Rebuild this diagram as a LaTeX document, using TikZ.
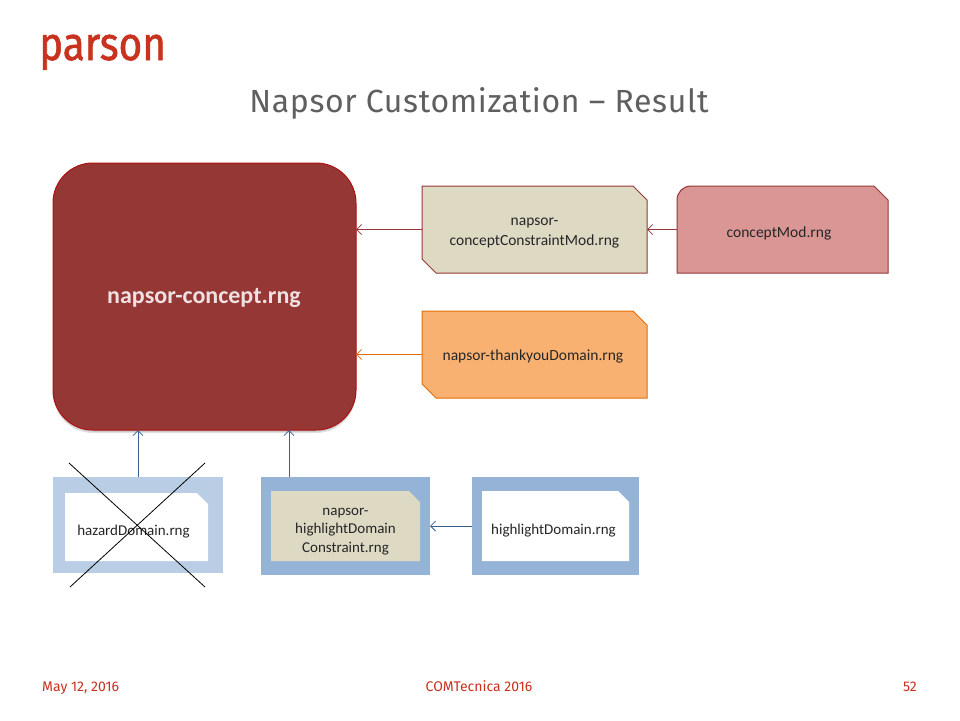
\documentclass[tikz,border=0pt]{standalone}
\usepackage{fontspec}
\setmainfont{Carlito}
\newfontfamily\titlefont{Fira Sans}
\newfontfamily\logofont[FakeBold=1.2,FakeStretch=0.86]{Fira Sans}
\usetikzlibrary{arrows.meta}
\definecolor{bigred}{HTML}{953735}
\definecolor{bigedge}{HTML}{B01010}
\definecolor{tan}{HTML}{DDD9C3}
\definecolor{orangefill}{HTML}{F9B172}
\definecolor{orangeedge}{HTML}{E36C09}
\definecolor{pinkfill}{HTML}{D99694}
\definecolor{paleblue}{HTML}{B9CDE5}
\definecolor{midblue}{HTML}{95B3D7}
\definecolor{arrowblue}{HTML}{376092}
\definecolor{brand}{HTML}{C8321E}
\definecolor{titlegray}{HTML}{5F5F5F}
\definecolor{bodytext}{HTML}{262626}
\tikzset{
  label text/.style={font=\fontsize{15.5}{20}\selectfont,text=bodytext,align=center,inner sep=0pt},
  small label/.style={label text,font=\fontsize{15}{18.5}\selectfont},
  anchor box/.style={inner sep=0pt,outer sep=0pt,draw=none},
  reddraw/.style={draw=bigred,line width=1pt},
  orangedraw/.style={draw=orangeedge,line width=1pt},
  link/.style={-{Straight Barb[length=5pt,width=10pt,line width=.8pt]},line width=1pt},
  redlink/.style={link,draw=bigred},
  orangelink/.style={link,draw=orangeedge},
  bluelink/.style={link,draw=arrowblue},
  strike/.style={draw=black,line width=.8pt},
  footer/.style={font=\titlefont\fontsize{14}{16}\selectfont,text=brand,inner sep=0pt}
}
\begin{document}
\begin{tikzpicture}[x=1pt,y=-1pt]
\useasboundingbox (0,0) rectangle (960,720);
\fill[white] (0,0) rectangle (960,720);
% header
\node[anchor=base west,inner sep=0pt,font=\logofont\fontsize{47}{50}\selectfont,text=brand] (logo) at (39,60) {parson};
\node[inner sep=0pt,font=\titlefont\fontsize{32}{38}\selectfont\addfontfeature{LetterSpace=2},text=titlegray] (title) at (479,103) {Napsor Customization – Result};
% big box
\fill[black,opacity=.12,rounded corners=40pt] (53,165) rectangle (356,433);
\fill[black,opacity=.15,rounded corners=40pt] (53,164) rectangle (356,431.5);
\filldraw[fill=bigred,draw=bigedge,line width=1pt,rounded corners=40pt] (53,163) rectangle (356,430);
\node[anchor box,minimum width=303pt,minimum height=267pt] (big) at (204.5,296.5) {};
\node[inner sep=0pt,font=\bfseries\fontsize{24}{28}\selectfont,text=white!85!bigred] (bigtext) at (204,298) {napsor-concept.rng};
% constraint mod
\filldraw[fill=tan,reddraw] (422,186) -- (633,186) -- (647,200) -- (647,273) -- (436,273) -- (422,259) -- cycle;
\node[anchor box,minimum width=225pt,minimum height=87pt] (cons) at (534.5,229.5) {};
\node[label text] (constext) at (534.5,233) {napsor-\\conceptConstraintMod.rng};
% concept mod
\filldraw[fill=pinkfill,reddraw] (677,273) -- (677,200) arc[start angle=180,end angle=90,radius=14pt] -- (874,186) -- (888,200) -- (888,273) -- cycle;
\node[anchor box,minimum width=211pt,minimum height=87pt] (cmod) at (782.5,229.5) {};
\node[label text] (cmodtext) at (779,233) {conceptMod.rng};
% thankyou
\filldraw[fill=orangefill,orangedraw] (422,311) -- (633,311) -- (647,325) -- (647,398) -- (436,398) -- (422,384) -- cycle;
\node[anchor box,minimum width=225pt,minimum height=87pt] (thank) at (534.5,354.5) {};
\node[label text] (thanktext) at (533,356.5) {napsor-thankyouDomain.rng};
% hazard
\node[anchor box,fill=paleblue,minimum width=170pt,minimum height=96pt] (hazard) at (138,525) {};
\fill[white] (65,493) -- (197,493) -- (208,504) -- (208,561) -- (65,561) -- cycle;
\node[small label] (hazardtext) at (133.5,531.5) {hazardDomain.rng};
% highlight constraint
\node[anchor box,fill=midblue,minimum width=169pt,minimum height=98pt] (hicons) at (345.5,526) {};
\fill[tan] (271,491) -- (409,491) -- (420,502) -- (420,561) -- (271,561) -- cycle;
\node[small label] (hiconstext) at (345.5,531.5) {napsor-\\highlightDomain\\Constraint.rng};
% highlight domain
\node[anchor box,fill=midblue,minimum width=167pt,minimum height=98pt] (hidom) at (555.5,526) {};
\fill[white] (482,491) -- (618,491) -- (629,502) -- (629,561) -- (482,561) -- cycle;
\node[small label] (hidomtext) at (553.5,530.5) {highlightDomain.rng};
% strike-through
\coordinate (xa) at (69,463); \coordinate (xb) at (205,587);
\coordinate (xc) at (70,587); \coordinate (xd) at (205,463);
\draw[strike] (xa) -- (xb);
\draw[strike] (xc) -- (xd);
% connectors
\draw[redlink] (cons.west) -- (big.east |- cons.west);
\draw[redlink] (cmod.west) -- (cons.east);
\draw[orangelink] (thank.west) -- (big.east |- thank.west);
\draw[bluelink] (hazard.north) -- (big.south -| hazard.north);
\coordinate (hiconsup) at (289,477);
\draw[bluelink] (hiconsup) -- (big.south -| hiconsup);
\draw[bluelink] (hidom.west) -- (hicons.east);
% footer
\node[footer,anchor=base west] (date) at (42,691) {May 12, 2016};
\node[footer,anchor=base] (conf) at (479,691) {COMTecnica 2016};
\node[footer,anchor=base east] (page) at (917,691) {52};
\end{tikzpicture}
\end{document}
